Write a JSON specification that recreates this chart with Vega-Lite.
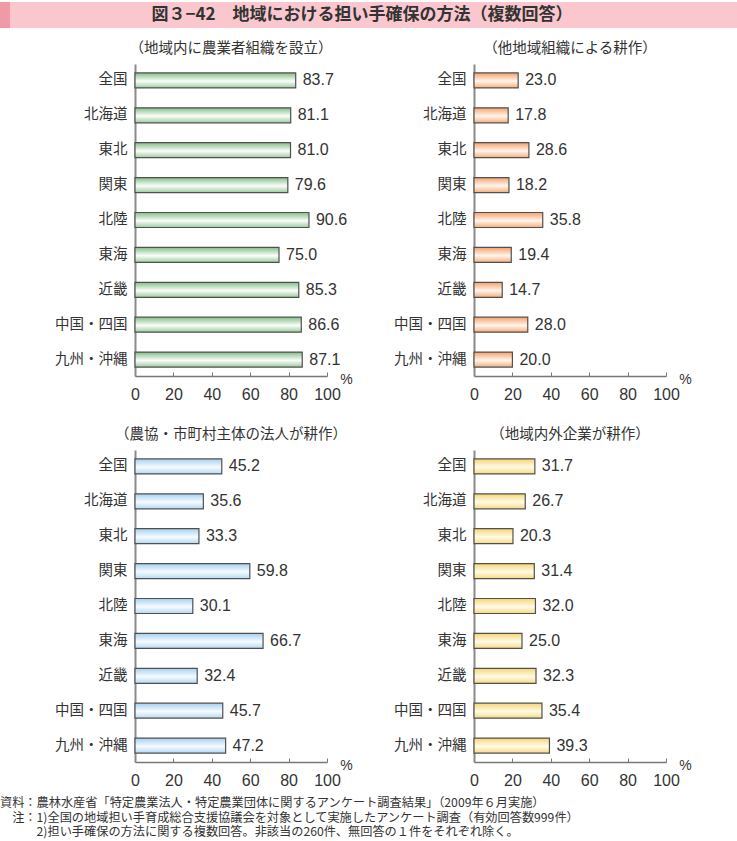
{
  "$schema": "https://vega.github.io/schema/vega-lite/v6.json",
  "background": "white",
  "padding": {"left": 0, "top": 2, "right": 0, "bottom": 0},
  "config": {
    "view": {"stroke": null},
    "font": "Noto Sans CJK JP",
    "axisY": {"domainColor": "#8a8a8a", "domainWidth": 2, "ticks": false, "labelPadding": 8, "labelFontSize": 14.5, "labelColor": "#333333", "labelFont": "Noto Sans CJK JP", "grid": false},
    "axisX": {"domainColor": "#777777", "domainWidth": 1.5, "tickColor": "#777777", "tickSize": -4, "tickWidth": 1, "labelFontSize": 16, "labelFont": "Liberation Sans", "labelColor": "#333333", "labelPadding": 14, "grid": false, "labelFlush": false, "labelOverlap": false, "titleFontSize": 14, "titleFont": "Liberation Sans", "titleFontWeight": "normal", "titleColor": "#333333", "titleX": 211, "titleY": 3, "titleAlign": "center", "titleBaseline": "middle"}
  },
  "title": {
    "text": [
      "資料：農林水産省「特定農業法人・特定農業団体に関するアンケート調査結果」（2009年６月実施）",
      "\u200b\u3000注：1)全国の地域担い手育成総合支援協議会を対象として実施したアンケート調査（有効回答数999件）",
      "\u200b\u3000\u3000\u30002)担い手確保の方法に関する複数回答。非該当の260件、無回答の１件をそれぞれ除く。"
    ],
    "orient": "bottom", "anchor": "start", "frame": "bounds", "fontSize": 12.2, "fontWeight": "normal", "color": "#333333", "lineHeight": 14.5, "offset": 9, "font": "Noto Sans CJK JP"
  },
  "spacing": 12,
  "vconcat": [
    {
      "width": 602, "height": 26,
      "data": {"values": [{"t": "図３−42　地域における担い手確保の方法（複数回答）"}]},
      "layer": [
        {"mark": {"type": "rect", "color": "#f9c7cd"}, "encoding": {"x": {"datum": 0, "type": "quantitative", "scale": {"domain": [135, 737], "zero": false, "nice": false}, "axis": null}, "x2": {"datum": 737}}},
        {"mark": {"type": "rect", "color": "#f09aa6"}, "encoding": {"x": {"datum": 0, "type": "quantitative"}, "x2": {"datum": 10}}},
        {"mark": {"type": "text", "fontSize": 17, "fontWeight": "bold", "color": "#333333", "font": "Noto Sans CJK JP"}, "encoding": {"x": {"datum": 362, "type": "quantitative"}, "text": {"field": "t"}}}
      ]
    },
    {
      "data": {"values": [
        {"g": "A", "panel": "（地域内に農業者組織を設立）", "region": "全国", "value": 83.7},
        {"g": "A", "panel": "（地域内に農業者組織を設立）", "region": "北海道", "value": 81.1},
        {"g": "A", "panel": "（地域内に農業者組織を設立）", "region": "東北", "value": 81.0},
        {"g": "A", "panel": "（地域内に農業者組織を設立）", "region": "関東", "value": 79.6},
        {"g": "A", "panel": "（地域内に農業者組織を設立）", "region": "北陸", "value": 90.6},
        {"g": "A", "panel": "（地域内に農業者組織を設立）", "region": "東海", "value": 75.0},
        {"g": "A", "panel": "（地域内に農業者組織を設立）", "region": "近畿", "value": 85.3},
        {"g": "A", "panel": "（地域内に農業者組織を設立）", "region": "中国・四国", "value": 86.6},
        {"g": "A", "panel": "（地域内に農業者組織を設立）", "region": "九州・沖縄", "value": 87.1},
        {"g": "B", "panel": "（他地域組織による耕作）", "region": "全国", "value": 23.0},
        {"g": "B", "panel": "（他地域組織による耕作）", "region": "北海道", "value": 17.8},
        {"g": "B", "panel": "（他地域組織による耕作）", "region": "東北", "value": 28.6},
        {"g": "B", "panel": "（他地域組織による耕作）", "region": "関東", "value": 18.2},
        {"g": "B", "panel": "（他地域組織による耕作）", "region": "北陸", "value": 35.8},
        {"g": "B", "panel": "（他地域組織による耕作）", "region": "東海", "value": 19.4},
        {"g": "B", "panel": "（他地域組織による耕作）", "region": "近畿", "value": 14.7},
        {"g": "B", "panel": "（他地域組織による耕作）", "region": "中国・四国", "value": 28.0},
        {"g": "B", "panel": "（他地域組織による耕作）", "region": "九州・沖縄", "value": 20.0},
        {"g": "C", "panel": "（農協・市町村主体の法人が耕作）", "region": "全国", "value": 45.2},
        {"g": "C", "panel": "（農協・市町村主体の法人が耕作）", "region": "北海道", "value": 35.6},
        {"g": "C", "panel": "（農協・市町村主体の法人が耕作）", "region": "東北", "value": 33.3},
        {"g": "C", "panel": "（農協・市町村主体の法人が耕作）", "region": "関東", "value": 59.8},
        {"g": "C", "panel": "（農協・市町村主体の法人が耕作）", "region": "北陸", "value": 30.1},
        {"g": "C", "panel": "（農協・市町村主体の法人が耕作）", "region": "東海", "value": 66.7},
        {"g": "C", "panel": "（農協・市町村主体の法人が耕作）", "region": "近畿", "value": 32.4},
        {"g": "C", "panel": "（農協・市町村主体の法人が耕作）", "region": "中国・四国", "value": 45.7},
        {"g": "C", "panel": "（農協・市町村主体の法人が耕作）", "region": "九州・沖縄", "value": 47.2},
        {"g": "D", "panel": "（地域内外企業が耕作）", "region": "全国", "value": 31.7},
        {"g": "D", "panel": "（地域内外企業が耕作）", "region": "北海道", "value": 26.7},
        {"g": "D", "panel": "（地域内外企業が耕作）", "region": "東北", "value": 20.3},
        {"g": "D", "panel": "（地域内外企業が耕作）", "region": "関東", "value": 31.4},
        {"g": "D", "panel": "（地域内外企業が耕作）", "region": "北陸", "value": 32.0},
        {"g": "D", "panel": "（地域内外企業が耕作）", "region": "東海", "value": 25.0},
        {"g": "D", "panel": "（地域内外企業が耕作）", "region": "近畿", "value": 32.3},
        {"g": "D", "panel": "（地域内外企業が耕作）", "region": "中国・四国", "value": 35.4},
        {"g": "D", "panel": "（地域内外企業が耕作）", "region": "九州・沖縄", "value": 39.3}
      ]},
      "columns": 2,
      "spacing": {"row": 74, "column": 147},
      "bounds": "flush",
      "facet": {
        "field": "panel", "type": "nominal", "title": null,
        "sort": ["（地域内に農業者組織を設立）", "（他地域組織による耕作）", "（農協・市町村主体の法人が耕作）", "（地域内外企業が耕作）"],
        "header": {"labelFontSize": 14.5, "labelColor": "#333333", "labelPadding": 8, "labelFont": "Noto Sans CJK JP"}
      },
      "spec": {
        "width": 192, "height": 312,
        "encoding": {
          "y": {"field": "region", "type": "nominal", "title": null,
                "sort": ["全国", "北海道", "東北", "関東", "北陸", "東海", "近畿", "中国・四国", "九州・沖縄"],
                "scale": {"paddingInner": 0.57, "paddingOuter": 0.255}},
          "x": {"field": "value", "type": "quantitative", "title": "%",
                "scale": {"domain": [0, 100]}, "axis": {"values": [0, 20, 40, 60, 80, 100]}}
        },
        "layer": [
          {"transform": [{"filter": {"field": "g", "equal": "A"}}],
           "mark": {"type": "bar", "stroke": "#505050", "strokeWidth": 1.2,
                    "fill": {"gradient": "linear", "x1": 0, "y1": 0, "x2": 0, "y2": 1, "stops": [{"offset": 0, "color": "#84be86"}, {"offset": 0.55, "color": "#fbfdfb"}, {"offset": 1, "color": "#9ccd9d"}]}}},
          {"transform": [{"filter": {"field": "g", "equal": "B"}}],
           "mark": {"type": "bar", "stroke": "#505050", "strokeWidth": 1.2,
                    "fill": {"gradient": "linear", "x1": 0, "y1": 0, "x2": 0, "y2": 1, "stops": [{"offset": 0, "color": "#f4a26a"}, {"offset": 0.55, "color": "#fff5ee"}, {"offset": 1, "color": "#f5ae78"}]}}},
          {"transform": [{"filter": {"field": "g", "equal": "C"}}],
           "mark": {"type": "bar", "stroke": "#505050", "strokeWidth": 1.2,
                    "fill": {"gradient": "linear", "x1": 0, "y1": 0, "x2": 0, "y2": 1, "stops": [{"offset": 0, "color": "#a6d0f0"}, {"offset": 0.55, "color": "#f6fbff"}, {"offset": 1, "color": "#b5d9f3"}]}}},
          {"transform": [{"filter": {"field": "g", "equal": "D"}}],
           "mark": {"type": "bar", "stroke": "#505050", "strokeWidth": 1.2,
                    "fill": {"gradient": "linear", "x1": 0, "y1": 0, "x2": 0, "y2": 1, "stops": [{"offset": 0, "color": "#f5d572"}, {"offset": 0.55, "color": "#fffbe8"}, {"offset": 1, "color": "#f7da80"}]}}},
          {"mark": {"type": "text", "align": "left", "baseline": "middle", "dx": 7, "fontSize": 16, "font": "Liberation Sans", "color": "#333333"},
           "encoding": {"text": {"field": "value", "type": "quantitative", "format": ".1f"}}}
        ]
      },
      "resolve": {"axis": {"x": "independent", "y": "independent"}}
    }
  ]
}
